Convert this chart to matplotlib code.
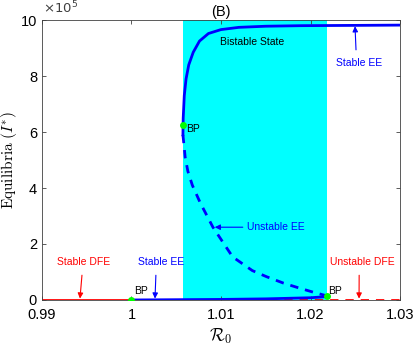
import numpy as np
import matplotlib
matplotlib.use("Agg")
import matplotlib.pyplot as plt

plt.rcParams['font.family'] = ['Liberation Sans', 'DejaVu Sans']
plt.rcParams['mathtext.fontset'] = 'cm'

# data (I* in units of 1e5)
r_bistable = [1.00575, 1.0218]
r_upper = [1.00575, 1.00578, 1.0059, 1.0061, 1.0064, 1.0069, 1.0076, 1.0086,
           1.0100, 1.0120, 1.0150, 1.0190, 1.0250, 1.0300]
i_upper = [5.90, 6.50, 7.30, 7.90, 8.40, 8.85, 9.25, 9.52,
           9.66, 9.74, 9.78, 9.80, 9.81, 9.82]
r_unstable = [1.00575, 1.0060, 1.0063, 1.0068, 1.0077, 1.0091, 1.0113,
              1.0135, 1.0151, 1.0170, 1.0188, 1.0205, 1.0218]
i_unstable = [5.90, 5.10, 4.60, 4.10, 3.46, 2.60, 1.54,
              1.05, 0.83, 0.60, 0.42, 0.26, 0.15]
r_lower = [1.0, 1.005, 1.010, 1.015, 1.020, 1.0218]
i_lower = [0.0, 0.01, 0.02, 0.04, 0.08, 0.12]
bp_r = [1.0, 1.00575, 1.0218]
bp_i = [0.0, 6.25, 0.15]
xticks = [0.99, 1.0, 1.01, 1.02, 1.03]
xticklabels = ['0.99', '1', '1.01', '1.02', '1.03']
yticks = [0, 2, 4, 6, 8, 10]

fig = plt.figure(figsize=(4.15, 3.46), dpi=100)
ax = fig.add_axes([0.101, 0.133, 0.863, 0.809])

ax.axvspan(r_bistable[0], r_bistable[1], color='#00ffff', lw=0, zorder=0)

ax.plot([0.99, 1.0], [0, 0], color='red', lw=2.0, zorder=2)
ax.plot([1.0, 1.03], [0, 0], color='red', lw=2.0, ls=(0, (3, 2.5)), zorder=2)
ax.plot(r_lower, i_lower, color='blue', lw=2.0, zorder=3)
ax.plot(r_upper, i_upper, color='blue', lw=2.0, zorder=3)
ax.plot(r_unstable, i_unstable, color='blue', lw=2.0, ls=(0, (3, 2.5)), zorder=3)
ax.plot(bp_r, bp_i, 'o', color='#00ff00', ms=5, mec='none', zorder=5)

fs = 7.5
ax.text(1.0003, 0.22, 'BP', fontsize=fs)
ax.text(1.0061, 6.12, 'BP', fontsize=fs, va='center')
ax.text(1.0220, 0.22, 'BP', fontsize=fs)
ax.text(1.0135, 9.21, 'Bistable State', fontsize=fs, ha='center', va='center')

arr = dict(arrowstyle='-|>', lw=0.8, mutation_scale=8)
ax.annotate('Stable DFE', xy=(0.99425, 0.05), xytext=(0.9946, 1.36),
            color='red', fontsize=fs, ha='center', va='center',
            arrowprops=dict(arr, color='red', shrinkA=4, shrinkB=0))
ax.annotate('Stable EE', xy=(1.00263, 0.05), xytext=(1.0033, 1.36),
            color='blue', fontsize=fs, ha='center', va='center',
            arrowprops=dict(arr, color='blue', shrinkA=4, shrinkB=0,
                            relpos=(0.4, 0.5)))
ax.annotate('Unstable DFE', xy=(1.02542, 0.05), xytext=(1.0258, 1.36),
            color='red', fontsize=fs, ha='center', va='center',
            arrowprops=dict(arr, color='red', shrinkA=4, shrinkB=0,
                            relpos=(0.45, 0.5)))
ax.annotate('Stable EE', xy=(1.02497, 9.78), xytext=(1.0254, 8.46),
            color='blue', fontsize=fs, ha='center', va='center',
            arrowprops=dict(arr, color='blue', shrinkA=4, shrinkB=0,
                            relpos=(0.45, 0.5)))
ax.annotate('Unstable EE', xy=(1.0093, 2.6), xytext=(1.0129, 2.6),
            color='blue', fontsize=fs, ha='left', va='center',
            arrowprops=dict(arr, color='blue', shrinkA=1, shrinkB=0,
                            relpos=(0, 0.5)))

ax.set_xlim(0.99, 1.03)
ax.set_ylim(0, 10)
ax.set_xticks(xticks)
ax.set_xticklabels(xticklabels)
ax.set_yticks(yticks)
fig.text(0.104, 0.952, r'$\times10^{5}$', fontsize=9.5,
         math_fontfamily='dejavusans', color='#404040', ha='left', va='bottom')

ax.tick_params(direction='in', top=True, right=True, labelsize=10.5,
               length=3, width=0.6, colors='#404040', labelcolor='black')
ax.tick_params(axis='x', pad=6)
for s in ax.spines.values():
    s.set_color('#404040')
    s.set_linewidth(0.6)

ax.set_xlabel(r'$\mathcal{R}_0$', fontsize=12.5, labelpad=3)
ax.set_ylabel(r'$\mathrm{Equilibria}\ (I^{*})$', fontsize=11, labelpad=1)
ax.set_title('(B)', fontsize=10.5, pad=3)

fig.savefig('out.png', dpi=100)
